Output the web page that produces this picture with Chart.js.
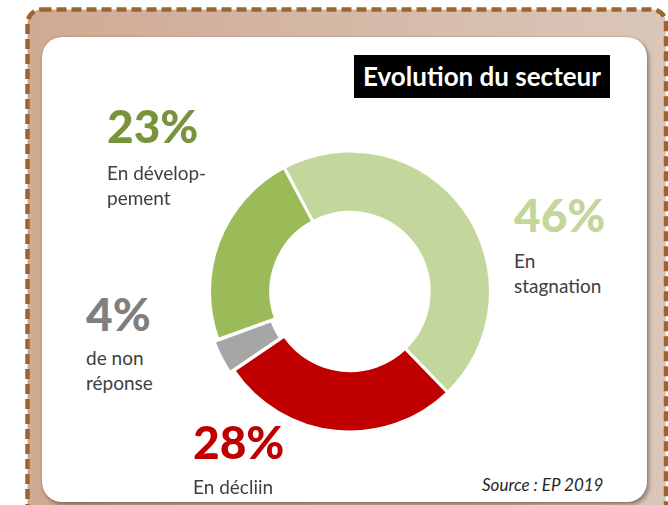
<!DOCTYPE html>
<html>
<head>
<meta charset="utf-8">
<script src="https://cdn.jsdelivr.net/npm/chart.js@4/dist/chart.umd.min.js"></script>
<style>
  html, body { margin:0; padding:0; background:#ffffff; }
  body { width:668px; height:505px; position:relative; overflow:hidden; font-family: Lato, "Open Sans", sans-serif; }
  #frame { position:absolute; left:0; top:0; }
  #panel { position:absolute; left:42px; top:37px; width:605px; height:465px; background:#ffffff;
           border-radius:20px; box-shadow: 2px 3px 4px rgba(60,40,30,0.45), 0 0 1.5px rgba(0,0,0,0.35); }
  #title { position:absolute; left:354px; top:55px; width:256px; height:43px; background:#000000; color:#ffffff;
           font-weight:700; font-size:26px; line-height:43px; text-align:center; white-space:nowrap; }
  #chartBox { position:absolute; left:190px; top:131px; width:320px; height:321px; }
  .pct { position:absolute; font-weight:900; font-size:46px; line-height:1.2; white-space:nowrap; }
  .lbl { position:absolute; font-size:19px; line-height:25px; color:#404040; white-space:nowrap; }
  #source { position:absolute; left:482px; top:475px; font-style:italic; font-size:17px; line-height:1.2; color:#262626; white-space:nowrap; }
</style>
</head>
<body>
<svg id="frame" width="668" height="505">
  <defs>
    <linearGradient id="tan" x1="0" y1="0" x2="1" y2="0">
      <stop offset="0" stop-color="#cfaa93"/>
      <stop offset="1" stop-color="#dac7ba"/>
    </linearGradient>
  </defs>
  <rect x="27.5" y="9.5" width="638.5" height="530" rx="14" ry="14" fill="url(#tan)"
        stroke="#9c6530" stroke-width="4.5" stroke-dasharray="10 5"/>
</svg>
<div id="panel"></div>
<div id="title">Evolution du secteur</div>
<div id="chartBox"><canvas id="c"></canvas></div>
<div id="annot"></div>
<div id="source">Source : EP 2019</div>
<script>
// ---- data ----
const categories = ["En stagnation", "En décliin", "de non réponse", "En développement"];
const values = [46, 28, 4, 23];
const labelLines = [["En", "stagnation"], ["En décliin"], ["de non", "réponse"], ["En dévelop-", "pement"]];

// ---- styles / layout (kept apart from data) ----
const sliceColors = ["#c3d69b", "#c00000", "#a6a6a6", "#9bbb59"];
const pctColors = ["#c3d69b", "#c00000", "#7f7f7f", "#77933c"];
const sliceOffsets = [0, 0, 10, 0];
const annotPos = [
  { x: 514, pctTop: 186.6, lblTop: 248 },
  { x: 193, pctTop: 413.6, lblTop: 474 },
  { x: 86,  pctTop: 285.6, lblTop: 345 },
  { x: 107, pctTop: 97.6,  lblTop: 160 }
];

const annot = document.getElementById("annot");
categories.forEach((cat, i) => {
  const p = document.createElement("div");
  p.className = "pct";
  p.style.left = annotPos[i].x + "px";
  p.style.top = annotPos[i].pctTop + "px";
  p.style.color = pctColors[i];
  p.textContent = values[i] + "%";
  annot.appendChild(p);
  labelLines[i].forEach((line, j) => {
    const l = document.createElement("div");
    l.className = "lbl";
    l.style.left = annotPos[i].x + "px";
    l.style.top = (annotPos[i].lblTop + j * 25) + "px";
    l.textContent = line;
    annot.appendChild(l);
  });
});

new Chart(document.getElementById("c"), {
  type: "doughnut",
  data: {
    labels: categories,
    datasets: [{
      data: values,
      backgroundColor: sliceColors,
      borderColor: "#ffffff",
      borderWidth: 3,
      offset: sliceOffsets,
      hoverOffset: 0
    }]
  },
  options: {
    responsive: true,
    maintainAspectRatio: false,
    animation: false,
    rotation: -28,
    radius: 140.5,
    cutout: 86.5,
    layout: { padding: 0 },
    plugins: { legend: { display: false }, tooltip: { enabled: false } },
    events: []
  }
});
</script>
</body>
</html>
